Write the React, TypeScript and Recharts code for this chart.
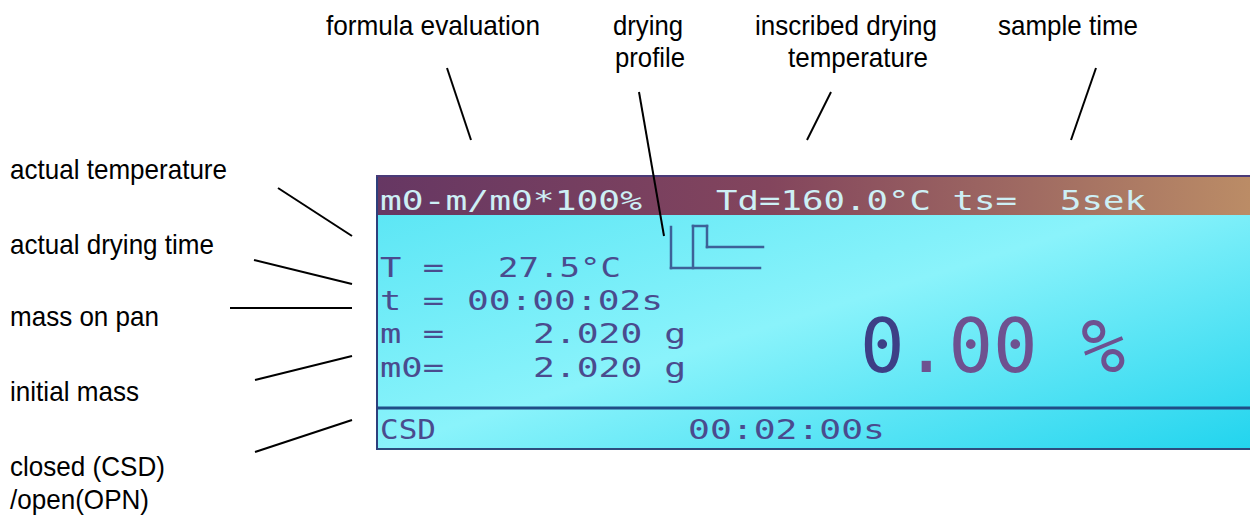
import React from 'react';
import { ComposedChart, XAxis, YAxis, ReferenceArea, ReferenceLine, ReferenceDot } from 'recharts';

const W = 1255;
const H = 520;

// annotation labels (picture units): text, anchor x, baseline y, text width
const topLabels = [
  { text: 'formula evaluation', x: 433, y: 35, w: 214 },
  { text: 'drying', x: 648, y: 35, w: 70 },
  { text: 'profile', x: 650, y: 67, w: 70 },
  { text: 'inscribed drying', x: 846, y: 35, w: 182 },
  { text: 'temperature', x: 858, y: 67, w: 140 },
  { text: 'sample time', x: 1068, y: 35, w: 140 },
];
const sideLabels = [
  { text: 'actual temperature', x: 10, y: 179, w: 217 },
  { text: 'actual drying time', x: 10, y: 254, w: 204 },
  { text: 'mass on pan', x: 10, y: 326, w: 149 },
  { text: 'initial mass', x: 10, y: 401, w: 129 },
  { text: 'closed (CSD)', x: 10, y: 476, w: 155 },
  { text: '/open(OPN)', x: 10, y: 509, w: 139 },
];
// pointer segments [x1, y1, x2, y2]
const pointers = [
  [447, 68, 471, 140],
  [639, 92, 664, 236],
  [831, 92, 807, 140],
  [1096, 68, 1071, 140],
  [278, 188, 352, 236],
  [254, 260, 352, 284],
  [230, 308, 352, 308],
  [255, 380, 352, 356],
  [255, 452, 352, 420],
];
// display screen
const screen = { x1: 376, x2: 1250, y1: 175, y2: 450 };
const topBar = { y1: 175, y2: 215 };
const separatorY = 408;
// LCD texts: text, start x, baseline y, span, kind
const lcdTexts = [
  { text: 'm0-m/m0*100%', x: 380, y: 210, len: 262, kind: 'bar' },
  { text: 'Td=160.0°C ts=  5sek', x: 716, y: 210, len: 430, kind: 'bar' },
  { text: 'T =', x: 380, y: 277, len: 64, kind: 'row' },
  { text: '27.5°C', x: 498, y: 277, len: 123, kind: 'row' },
  { text: 't =', x: 380, y: 310, len: 64, kind: 'row' },
  { text: '00:00:02s', x: 467, y: 310, len: 196, kind: 'row' },
  { text: 'm =', x: 380, y: 343, len: 64, kind: 'row' },
  { text: '2.020 g', x: 533, y: 343, len: 153, kind: 'row' },
  { text: 'm0=', x: 380, y: 377, len: 64, kind: 'row' },
  { text: '2.020 g', x: 533, y: 377, len: 153, kind: 'row' },
  { text: 'CSD', x: 380, y: 439, len: 56, kind: 'row' },
  { text: '00:02:00s', x: 688, y: 439, len: 197, kind: 'row' },
  { text: '0', x: 860, y: 372, len: 0, kind: 'bigDark' },
  { text: '.00', x: 904, y: 372, len: 0, kind: 'big' },
  { text: '%', x: 1081, y: 372, len: 0, kind: 'big' },
];
// drying profile icon (polylines)
const profileAxis = [
  { x: 671, y: 227 },
  { x: 671, y: 268 },
  { x: 760, y: 268 },
];
const profileTrace = [
  { x: 693, y: 268 },
  { x: 693, y: 226 },
  { x: 707, y: 226 },
  { x: 707, y: 247 },
  { x: 763, y: 247 },
];

const labelFont = "'Liberation Sans Narrow', 'Liberation Sans', Arial, sans-serif";
const lcdFont = "'DejaVu Sans Mono', 'Liberation Mono', monospace";

const lcdStyle: Record<string, any> = {
  bar: { fill: '#cdeff5', fontSize: 27 },
  row: { fill: '#4a4b8e', fontSize: 27 },
  big: { fill: '#6e5190', fontSize: 74 },
  bigDark: { fill: '#3d3f86', fontSize: 74 },
};

function segs(pts: { x: number; y: number }[]) {
  const out: { x: number; y: number }[][] = [];
  for (let i = 1; i < pts.length; i++) out.push([pts[i - 1], pts[i]]);
  return out;
}

export default function App() {
  const iconSegs = [...segs(profileAxis), ...segs(profileTrace)];
  return (
    <div style={{ position: 'absolute', left: 0, top: 0, width: W, height: H, background: '#fff' }}>
      <ComposedChart width={W} height={H} margin={{ top: 0, right: 0, bottom: 0, left: 0 }}>
        <defs>
          <linearGradient id="lcdBg" x1="0" y1="0" x2="1" y2="1">
            <stop offset="0" stopColor="#55e4f4" />
            <stop offset="0.5" stopColor="#8af3fb" />
            <stop offset="1" stopColor="#22d4ee" />
          </linearGradient>
          <linearGradient id="barBg" x1="0" y1="0" x2="1" y2="0">
            <stop offset="0" stopColor="#663763" />
            <stop offset="0.45" stopColor="#83455d" />
            <stop offset="0.75" stopColor="#a06b62" />
            <stop offset="1" stopColor="#bb8c66" />
          </linearGradient>
        </defs>
        <XAxis type="number" dataKey="x" domain={[0, W]} hide allowDataOverflow />
        <YAxis type="number" dataKey="y" domain={[0, H]} reversed hide allowDataOverflow />

        <ReferenceArea x1={screen.x1} x2={screen.x2} y1={screen.y1} y2={screen.y2} fill="url(#lcdBg)" fillOpacity={1} stroke="none" ifOverflow="visible" />
        <ReferenceArea x1={screen.x1} x2={screen.x2} y1={topBar.y1} y2={topBar.y2} fill="url(#barBg)" fillOpacity={1} stroke="none" ifOverflow="visible" />
        <ReferenceLine segment={[{ x: screen.x1, y: separatorY }, { x: screen.x2, y: separatorY }]} stroke="#1f4d86" strokeWidth={3} ifOverflow="visible" />
        <ReferenceLine segment={[{ x: screen.x1, y: screen.y2 - 1 }, { x: screen.x2, y: screen.y2 - 1 }]} stroke="#2d4d7e" strokeWidth={2} ifOverflow="visible" />
        <ReferenceLine segment={[{ x: screen.x1 + 1, y: screen.y1 }, { x: screen.x1 + 1, y: screen.y2 }]} stroke="#2d3f7c" strokeWidth={2} ifOverflow="visible" />
        <ReferenceLine segment={[{ x: screen.x1, y: screen.y1 + 1 }, { x: screen.x2, y: screen.y1 + 1 }]} stroke="#4a3a78" strokeWidth={2} ifOverflow="visible" />

        {iconSegs.map((s, i) => (
          <ReferenceLine key={'ic' + i} segment={s} stroke="#3d6198" strokeWidth={2.5} strokeLinecap="square" ifOverflow="visible" />
        ))}

        {lcdTexts.map((t, i) => (
          <ReferenceDot
            key={'lcd' + i}
            x={t.x}
            y={t.y}
            r={0}
            ifOverflow="visible"
            shape={(p: any) => (
              <text
                x={p.cx}
                y={p.cy}
                fontFamily={lcdFont}
                fontSize={lcdStyle[t.kind].fontSize}
                fill={lcdStyle[t.kind].fill}
                textLength={t.len || undefined}
                lengthAdjust={t.len ? 'spacingAndGlyphs' : undefined}
                style={{ whiteSpace: 'pre' }}
              >
                {t.text}
              </text>
            )}
          />
        ))}

        {pointers.map((s, i) => (
          <ReferenceLine key={'p' + i} segment={[{ x: s[0], y: s[1] }, { x: s[2], y: s[3] }]} stroke="#000" strokeWidth={2} ifOverflow="visible" />
        ))}

        {topLabels.map((t, i) => (
          <ReferenceDot
            key={'t' + i}
            x={t.x}
            y={t.y}
            r={0}
            ifOverflow="visible"
            shape={(p: any) => (
              <text x={p.cx} y={p.cy} textAnchor="middle" fontFamily={labelFont} fontSize={28} fill="#000" textLength={t.w} lengthAdjust="spacingAndGlyphs">
                {t.text}
              </text>
            )}
          />
        ))}
        {sideLabels.map((t, i) => (
          <ReferenceDot
            key={'s' + i}
            x={t.x}
            y={t.y}
            r={0}
            ifOverflow="visible"
            shape={(p: any) => (
              <text x={p.cx} y={p.cy} textAnchor="start" fontFamily={labelFont} fontSize={28} fill="#000" textLength={t.w} lengthAdjust="spacingAndGlyphs">
                {t.text}
              </text>
            )}
          />
        ))}
      </ComposedChart>
    </div>
  );
}
